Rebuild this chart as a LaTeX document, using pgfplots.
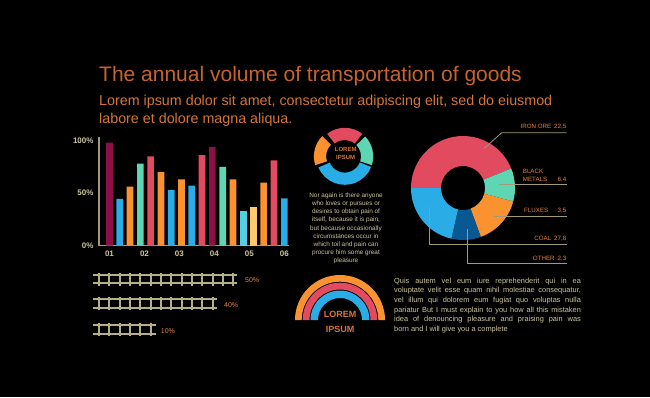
\documentclass[border=0pt]{standalone}
\usepackage{pgfplots}
\pgfplotsset{compat=1.18}
\usepackage{fontspec}
\setmainfont{Liberation Sans}
\definecolor{titlec}{RGB}{198,100,46}
\definecolor{subc}{RGB}{212,118,58}
\definecolor{khaki}{RGB}{205,198,160}
\definecolor{axisc}{RGB}{160,154,118}
\definecolor{railc}{RGB}{182,176,136}
\definecolor{lblc}{RGB}{232,130,60}
\definecolor{cmaroon}{RGB}{138,16,70}
\definecolor{cred}{RGB}{226,74,96}
\definecolor{cgreen}{RGB}{94,214,180}
\definecolor{corange}{RGB}{250,146,48}
\definecolor{cblue}{RGB}{42,172,230}
\definecolor{ccyan}{RGB}{84,208,228}
\definecolor{cyellow}{RGB}{255,200,110}
\definecolor{cdblue}{RGB}{10,88,145}
\newcommand{\fs}[2]{\fontsize{#1}{#2}\selectfont}
% ring segment: cx cy startangle endangle rin rout colour
\newcommand{\seg}[7]{\fill[#7] ([shift={(#3:#6pt)}]axis cs:#1,#2) arc[start angle=#3,end angle=#4,radius=#6pt] -- ([shift={(#4:#5pt)}]axis cs:#1,#2) arc[start angle=#4,end angle=#3,radius=#5pt] -- cycle;}
\pgfplotsset{mybar/.style={ybar,bar width=6.7pt,bar shift=0pt,draw=none,fill=#1}}
\begin{document}
\begin{tikzpicture}
\fill[black] (0pt,0pt) rectangle (650pt,397pt);
% ---------------- canvas axis (pixel units, y downwards) ----------------
\begin{axis}[at={(0pt,0pt)},anchor=south west,scale only axis,width=650pt,height=397pt,
  xmin=0,xmax=650,ymin=0,ymax=397,y dir=reverse,hide axis,clip=false]
 % titles
 \node[anchor=base west,inner sep=0,text=titlec,font=\fs{21}{25}] at (axis cs:99,81.7) {The annual volume of transportation of goods};
 \node[anchor=base west,inner sep=0,text=subc,font=\fs{14.3}{17}] at (axis cs:99,105.7) {Lorem ipsum dolor sit amet, consectetur adipiscing elit, sed do eiusmod};
 \node[anchor=base west,inner sep=0,text=subc,font=\fs{14.3}{17}] at (axis cs:99,123.2) {labore et dolore magna aliqua.};
 % small donut
 \seg{344.7}{156.3}{52}{128}{16.3}{28.5}{cred}
 \seg{344.7}{156.3}{-18}{44}{16.3}{28.5}{cgreen}
 \seg{344.7}{156.3}{-157}{-22}{16.3}{28.5}{cblue}
 \seg{342.4}{156.3}{135}{198}{16.3}{28.5}{corange}
 \node[anchor=base,inner sep=0,text=subc,font=\bfseries\fs{6}{7}] at (axis cs:345.7,151.9) {LOREM};
 \node[anchor=base,inner sep=0,text=subc,font=\bfseries\fs{6}{7}] at (axis cs:345.7,159.9) {IPSUM};
 % middle paragraph
 \begin{scope}[every node/.style={anchor=base,inner sep=0,text=khaki,font=\fs{6.4}{8}}]
 \node at (axis cs:346,197.2) {Nor again is there anyone};
 \node at (axis cs:346,205.4) {who loves or pursues or};
 \node at (axis cs:346,213.6) {desires to obtain pain of};
 \node at (axis cs:346,221.8) {itself, because it is pain,};
 \node at (axis cs:346,230.0) {but because occasionally};
 \node at (axis cs:346,238.2) {circumstances occur in};
 \node at (axis cs:346,246.4) {which toil and pain can};
 \node at (axis cs:346,254.6) {procure him some great};
 \node at (axis cs:346,262.8) {pleasure};
 \end{scope}
 % big donut
 \seg{463}{188}{22}{180}{22}{52}{cred}
 \seg{463}{188}{-15}{22}{22}{52}{cgreen}
 \seg{463}{188}{-70}{-15}{22}{52}{corange}
 \seg{463}{188}{-103}{-70}{22}{52}{cdblue}
 \seg{463}{188}{-180}{-103}{22}{52}{cblue}
 % leader lines
 \addplot[axisc,line width=0.8pt,mark=none] coordinates {(484.3,148.3) (501.7,132.7) (566.7,132.7)};
 \addplot[axisc,line width=0.8pt,mark=none] coordinates {(499.3,184) (566.7,184)};
 \addplot[axisc,line width=0.8pt,mark=none] coordinates {(494.3,216.3) (566.7,216.3)};
 \addplot[axisc,line width=0.8pt,mark=none] coordinates {(429.3,206.7) (429.3,244.3) (566.7,244.3)};
 \addplot[axisc,line width=0.8pt,mark=none] coordinates {(467.7,229.3) (467.7,263.3) (566.7,263.3)};
 \begin{scope}[every node/.style={inner sep=0,text=lblc,font=\fs{6.2}{7}}]
 \node[anchor=base east] at (axis cs:566.5,128.3) {IRON ORE\hspace{3pt}22,5};
 \node[anchor=base west] at (axis cs:522.7,173.2) {BLACK};
 \node[anchor=base west] at (axis cs:522.7,181.5) {METALS};
 \node[anchor=base east] at (axis cs:566.5,181.5) {6,4};
 \node[anchor=base west] at (axis cs:524,212.2) {FLUXES};
 \node[anchor=base east] at (axis cs:566.5,212.2) {3,5};
 \node[anchor=base east] at (axis cs:566.5,240) {COAL\hspace{3pt}27,8};
 \node[anchor=base east] at (axis cs:566.5,260.5) {OTHER\hspace{3pt}2,3};
 \end{scope}
 % rail tracks
 \addplot[railc,line width=1.8pt,mark=none] coordinates {(93.3,274.7) (237.3,274.7)};
 \addplot[railc,line width=1.8pt,mark=none] coordinates {(93.3,283.3) (237.3,283.3)};
 \addplot[draw=railc,only marks,mark=|,mark size=6.3pt,mark options={line width=1.7pt}] coordinates {(99,279.2) (109.3,279.2) (119.7,279.2) (130,279.2) (140.3,279.2) (150.7,279.2) (161,279.2) (171.3,279.2) (181.7,279.2) (192,279.2) (202.3,279.2) (212.7,279.2) (223,279.2) (233.3,279.2)};
 \addplot[railc,line width=1.8pt,mark=none] coordinates {(93.3,298.7) (217.3,298.7)};
 \addplot[railc,line width=1.8pt,mark=none] coordinates {(93.3,308) (217.3,308)};
 \addplot[draw=railc,only marks,mark=|,mark size=6.3pt,mark options={line width=1.7pt}] coordinates {(99,303.4) (109.3,303.4) (119.7,303.4) (130,303.4) (140.3,303.4) (150.7,303.4) (161,303.4) (171.3,303.4) (181.7,303.4) (192,303.4) (202.3,303.4) (212.7,303.4)};
 \addplot[railc,line width=1.8pt,mark=none] coordinates {(93.3,325) (156,325)};
 \addplot[railc,line width=1.8pt,mark=none] coordinates {(93.3,334) (156,334)};
 \addplot[draw=railc,only marks,mark=|,mark size=6.3pt,mark options={line width=1.7pt}] coordinates {(99,329.5) (109.3,329.5) (119.7,329.5) (130,329.5) (140.3,329.5) (150.7,329.5)};
 \begin{scope}[every node/.style={inner sep=0,text=lblc,font=\fs{7}{8}}]
 \node[anchor=base west] at (axis cs:245,282.5) {50\%};
 \node[anchor=base west] at (axis cs:224,307.5) {40\%};
 \node[anchor=base west] at (axis cs:160.7,333.2) {10\%};
 \end{scope}
 % rainbow
 \seg{340}{320}{0}{180}{38.3}{45}{corange}
 \seg{340}{320}{0}{180}{30.5}{37.3}{cred}
 \seg{340}{320}{0}{180}{22}{29.5}{cblue}
 \node[anchor=base,inner sep=0,text=subc,font=\bfseries\fs{9}{10}] at (axis cs:340,317.5) {LOREM};
 \node[anchor=base,inner sep=0,text=subc,font=\bfseries\fs{9}{10}] at (axis cs:340,332.5) {IPSUM};
 % right paragraph
 \begin{scope}[every node/.style={inner sep=0,text=khaki,font=\fs{7.4}{9},anchor=base west}]
 \node at (axis cs:394,283) {\makebox[186.7pt][s]{Quis autem vel eum iure reprehenderit qui in ea}};
 \node at (axis cs:394,292.7) {\makebox[186.7pt][s]{voluptate velit esse quam nihil molestiae consequatur,}};
 \node at (axis cs:394,302.4) {\makebox[186.7pt][s]{vel illum qui dolorem eum fugiat quo voluptas nulla}};
 \node at (axis cs:394,312.1) {\makebox[186.7pt][s]{pariatur But I must explain to you how all this mistaken}};
 \node at (axis cs:394,321.8) {\makebox[186.7pt][s]{idea of denouncing pleasure and praising pain was}};
 \node at (axis cs:394,331.5) {born and I will give you a complete};
 \end{scope}
\end{axis}
% ---------------- bar chart ----------------
\begin{axis}[at={(99pt,151.5pt)},anchor=south west,scale only axis,width=190pt,height=108.15pt,
  xmin=-1.02,xmax=17.45,ymin=0,ymax=103,
  axis x line=bottom,axis y line=left,axis line style={-,draw=axisc,line width=1.3pt},
  xtick={0,3.4,6.8,10.2,13.6,17},xticklabels={01,02,03,04,05,06},
  ytick={0,50,100},yticklabels={0\%,50\%,100\%},
  major tick length=0pt,
  tick label style={font=\bfseries\fs{8}{9},text=khaki},
  xticklabel style={yshift=-2pt},yticklabel style={xshift=-2pt},
  clip=false]
 \addplot[mybar=cmaroon] coordinates {(0,98) (10,94)};
 \addplot[mybar=cblue] coordinates {(1,44.5) (6,53) (8,57) (17,45)};
 \addplot[mybar=corange] coordinates {(2,56) (5,70) (7,63) (12,63) (15,60)};
 \addplot[mybar=cgreen] coordinates {(3,78) (11,75)};
 \addplot[mybar=cred] coordinates {(4,85) (9,86) (16,81)};
 \addplot[mybar=ccyan] coordinates {(13,33)};
 \addplot[mybar=cyellow] coordinates {(14,37)};
\end{axis}
\end{tikzpicture}
\end{document}
